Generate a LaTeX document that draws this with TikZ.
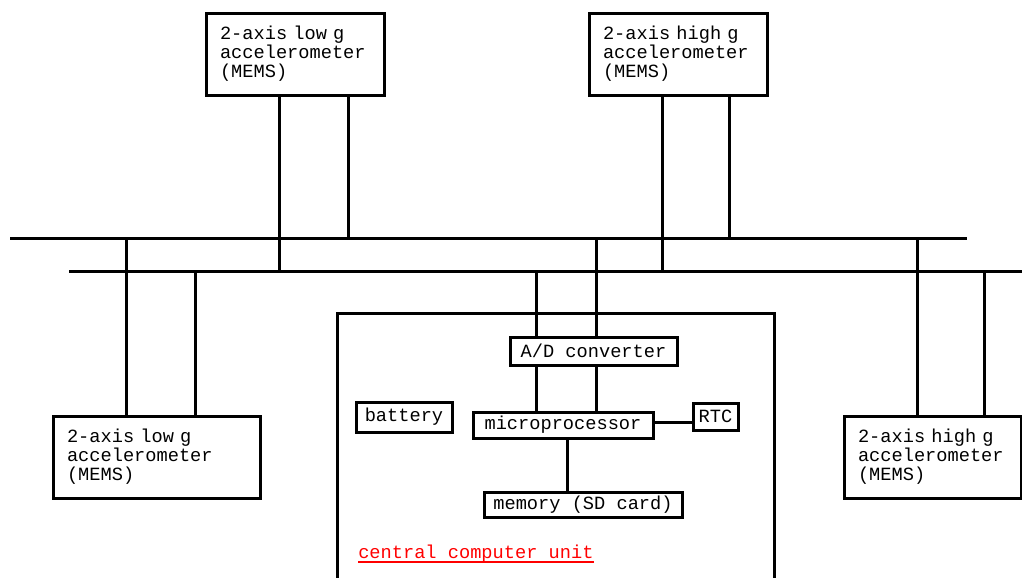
\documentclass[tikz,border=0pt]{standalone}
\usepackage{fontspec}
\setmainfont{Liberation Mono}
\begin{document}
\begin{tikzpicture}[x=0.75pt,y=-0.75pt,
  wire/.style={line width=2.25pt},
  txt/.style={font=\fontsize{14}{14.25}\selectfont},
  unit/.style={draw,line width=2.25pt,inner sep=0pt,txt},
  sensor/.style={unit,align=left,inner xsep=10.5pt,text width=#1,minimum height=61.5pt},
  block/.style 2 args={unit,minimum width=#1,minimum height=#2}]
\useasboundingbox (0,0) rectangle (1022,578);

% two signal buses
\coordinate (uw) at (10,238);  \coordinate (ue) at (967,238);
\coordinate (lw) at (69,271);  \coordinate (le) at (1022,271);
\draw[wire] (uw) -- (ue);
\draw[wire] (lw) -- (le);

% accelerometers
\node[sensor=112.5pt] (tl) at (295,54) {2-axis low g\\accelerometer\\(MEMS)};
\node[sensor=112.5pt] (tr) at (678,54) {2-axis high g\\accelerometer\\(MEMS)};
\node[sensor=134.25pt] (bl) at (156.5,457) {2-axis low g\\accelerometer\\(MEMS)};
\node[sensor=111.75pt] (br) at (932.5,457) {2-axis high g\\accelerometer\\(MEMS)};

% central computer unit frame (open at the bottom)
\coordinate (fa) at (337,580); \coordinate (fb) at (337,313);
\coordinate (fc) at (774,313); \coordinate (fd) at (774,580);
\draw[wire] (fa) -- (fb) -- (fc) -- (fd);

\node[block={125.25pt}{21pt}] (ad) at (593.5,351) {A/D converter};
\node[block={135pt}{19.5pt}] (mp) at (563,425) {microprocessor};
\node[block={33.75pt}{20.25pt}] (rtc) at (715.5,416.5) {RTC};
\node[block={72pt}{22.5pt}] (bat) at (404,417) {battery};
\node[block={148.5pt}{18.75pt}] (mem) at (583,504.5) {memory (SD card)};

\node[txt,text=red,inner sep=0pt,anchor=base west] (ccu) at (358,558) {central computer unit};
\draw[red,line width=1.2pt] ([yshift=-3pt]ccu.base west) -- ([yshift=-3pt]ccu.base east);

% bus taps
\coordinate (t1) at (279,271); \coordinate (t2) at (348,238);
\coordinate (t3) at (662,271); \coordinate (t4) at (729,238);
\coordinate (t5) at (126,238); \coordinate (t6) at (195,271);
\coordinate (t7) at (917,238); \coordinate (t8) at (984,271);
\coordinate (t9) at (536,271); \coordinate (t10) at (596,238);

\draw[wire] (tl.south -| t1) -- (t1);
\draw[wire] (tl.south -| t2) -- (t2);
\draw[wire] (tr.south -| t3) -- (t3);
\draw[wire] (tr.south -| t4) -- (t4);
\draw[wire] (t5) -- (bl.north -| t5);
\draw[wire] (t6) -- (bl.north -| t6);
\draw[wire] (t7) -- (br.north -| t7);
\draw[wire] (t8) -- (br.north -| t8);
\draw[wire] (t9) -- (ad.north -| t9);
\draw[wire] (t10) -- (ad.north -| t10);

% inside the computer unit
\draw[wire] (ad.south -| t9) -- (mp.north -| t9);
\draw[wire] (ad.south -| t10) -- (mp.north -| t10);
\coordinate (rl) at (0,422);
\draw[wire] (mp.east |- rl) -- (rtc.west |- rl);
\coordinate (ml) at (567,0);
\draw[wire] (mp.south -| ml) -- (mem.north -| ml);
\end{tikzpicture}
\end{document}
